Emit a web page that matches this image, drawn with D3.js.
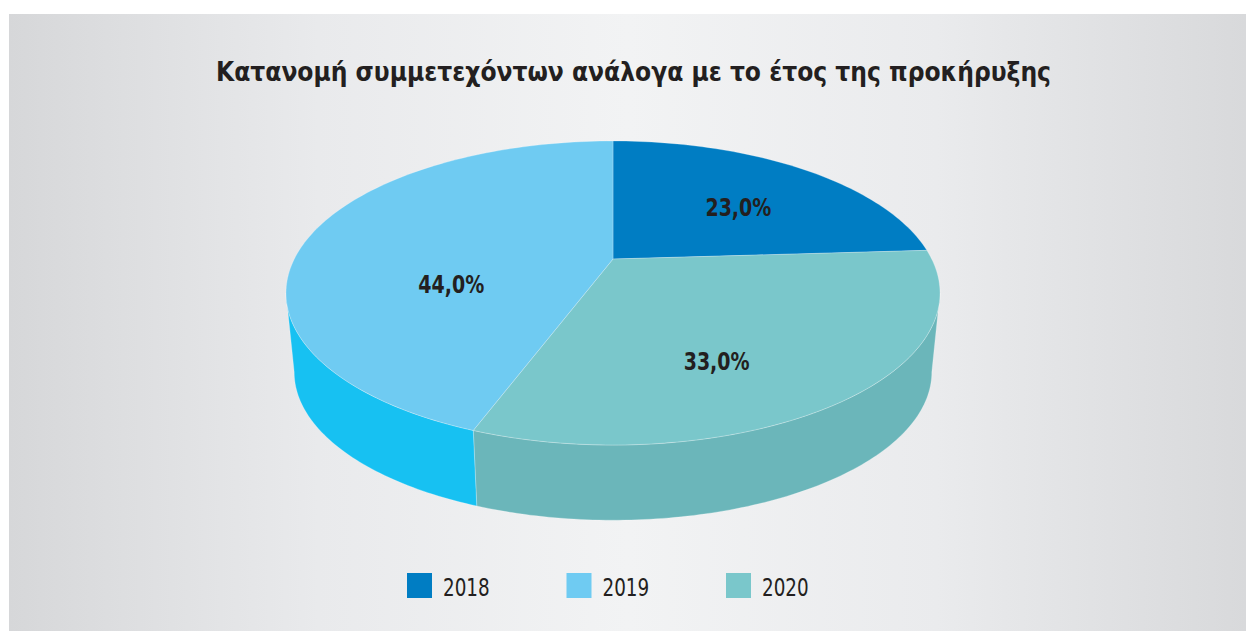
<!DOCTYPE html>
<html>
<head>
<meta charset="utf-8">
<script src="https://cdn.jsdelivr.net/npm/d3@7"></script>
<style>
  body { margin: 0; background: #fff; }
  svg { display: block; }
</style>
</head>
<body>
<div id="chart"></div>
<script>
var titleText = "Κατανομή συμμετεχόντων ανάλογα με το έτος της προκήρυξης";
var years = ["2018", "2019", "2020"];
var shares = [23.0, 44.0, 33.0];
// order around the pie, clockwise from 12 o'clock
var sliceOrder = ["2018", "2020", "2019"];

var topColors = {"2018": "#007dc3", "2019": "#6fcbf2", "2020": "#7ac7cb"};
var wallColors = {"2018": "#006aa6", "2019": "#17c1f2", "2020": "#6bb6ba"};

var wt = 1246;
var ht = 631;
var fontFamily = "'DejaVu Sans Condensed', 'DejaVu Sans', sans-serif";

var svg = d3.select("#chart").append("svg")
    .attr("width", wt)
    .attr("height", ht);

// background panel
var grad = svg.append("defs").append("linearGradient")
    .attr("id", "bg")
    .attr("x1", "0%").attr("x2", "100%")
    .attr("y1", "0%").attr("y2", "0%");
grad.append("stop").attr("offset", "0%").attr("stop-color", "#d6d7d9");
grad.append("stop").attr("offset", "25%").attr("stop-color", "#e9eaec");
grad.append("stop").attr("offset", "50%").attr("stop-color", "#f2f3f4");
grad.append("stop").attr("offset", "75%").attr("stop-color", "#eaebed");
grad.append("stop").attr("offset", "100%").attr("stop-color", "#d8d9db");

svg.append("rect")
    .attr("x", 9).attr("y", 14)
    .attr("width", wt - 9).attr("height", ht - 14)
    .attr("fill", "url(#bg)");

svg.append("text")
    .attr("x", 633.5)
    .attr("y", 81)
    .attr("text-anchor", "middle")
    .attr("textLength", 835)
    .attr("lengthAdjust", "spacingAndGlyphs")
    .style("font-family", fontFamily)
    .style("font-weight", "bold")
    .style("font-size", "27px")
    .style("fill", "#231f20")
    .text(titleText);

// pseudo 3d pie: top ellipse, apex pushed back, angles warped for perspective
var cx = 613, cy = 293;          // ellipse centre
var rx = 327, ry = 152;
var apexY = 259;                 // where the slices meet
var warp = 0.85;                 // perspective squeeze of angles
var wallH = 79, shrink = 0.975;  // side depth

function ellipseAngle(a) {
    // pie angle (0 = top, clockwise) -> ellipse parameter
    var half = a / 2;
    var turns = Math.floor((half + Math.PI / 2) / Math.PI);
    return 2 * (Math.atan(warp * Math.tan(half)) + turns * Math.PI);
}

function outline(t, bottom) {
    var s = bottom ? shrink : 1;
    return [cx + rx * s * Math.sin(t), cy - ry * s * Math.cos(t) + (bottom ? wallH : 0)];
}

function arcPoints(t0, t1, bottom) {
    var n = Math.max(2, Math.ceil(Math.abs(t1 - t0) / 0.02));
    return d3.range(n + 1).map(function (i) {
        return outline(t0 + (t1 - t0) * i / n, bottom);
    });
}

var data = sliceOrder.map(function (y) {
    return {year: y, value: shares[years.indexOf(y)]};
});

var pie = d3.pie()
    .sort(null)
    .value(function (d) { return d.value; });
var arcs = pie(data);

var line = d3.line().curve(d3.curveLinearClosed);
var g = svg.append("g");

arcs.forEach(function (d) {
    d.t0 = ellipseAngle(d.startAngle);
    d.t1 = ellipseAngle(d.endAngle);
    d.top = [[cx, apexY]].concat(arcPoints(d.t0, d.t1, false));
    var a0 = Math.max(d.t0, Math.PI / 2);
    var a1 = Math.min(d.t1, 3 * Math.PI / 2);
    d.wall = a1 > a0 ? arcPoints(a0, a1, false).concat(arcPoints(a1, a0, true)) : null;
});

// side walls (front half only)
arcs.filter(function (d) { return d.wall; }).forEach(function (d) {
    g.append("path")
        .attr("d", line(d.wall))
        .attr("fill", wallColors[d.data.year])
        .attr("stroke", "rgba(255,255,255,0.35)")
        .attr("stroke-width", 0.7);
});

// top faces
arcs.forEach(function (d) {
    g.append("path")
        .attr("d", line(d.top))
        .attr("fill", topColors[d.data.year])
        .attr("stroke", "rgba(255,255,255,0.35)")
        .attr("stroke-width", 0.7);
});

// label near the area centroid of the slice, side counted lightly
function labelPos(d) {
    var parts = [[d.top, 1]].concat(d.wall ? [[d.wall, 0.3]] : []);
    var sa = 0, sx = 0, sy = 0;
    parts.forEach(function (p) {
        var a = Math.abs(d3.polygonArea(p[0])) * p[1];
        var c = d3.polygonCentroid(p[0]);
        sa += a; sx += a * c[0]; sy += a * c[1];
    });
    return [sx / sa, sy / sa];
}

var fmt = function (v) { return d3.format(".1f")(v).replace(".", ",") + "%"; };

g.selectAll(".label")
    .data(arcs)
    .enter().append("text")
    .attr("class", "label")
    .attr("transform", function (d) {
        var p = labelPos(d);
        return "translate(" + p[0] + "," + p[1] + ") scale(0.88,1)";
    })
    .attr("dy", "0.36em")
    .attr("text-anchor", "middle")
    .style("font-family", fontFamily)
    .style("font-weight", "bold")
    .style("font-size", "24px")
    .style("fill", "#231f20")
    .text(function (d) { return fmt(d.data.value); });

// legend
var lx = d3.scalePoint()
    .domain(years)
    .range([407, 726]);

var legend = svg.selectAll(".legend")
    .data(years)
    .enter().append("g")
    .attr("class", "legend")
    .attr("transform", function (d) { return "translate(" + lx(d) + ",573)"; });

legend.append("rect")
    .attr("width", 25)
    .attr("height", 25)
    .attr("fill", function (d) { return topColors[d]; });

legend.append("text")
    .attr("transform", "translate(36,23) scale(0.85,1)")
    .style("font-family", fontFamily)
    .style("font-size", "24px")
    .style("fill", "#231f20")
    .text(function (d) { return d; });
</script>
</body>
</html>
